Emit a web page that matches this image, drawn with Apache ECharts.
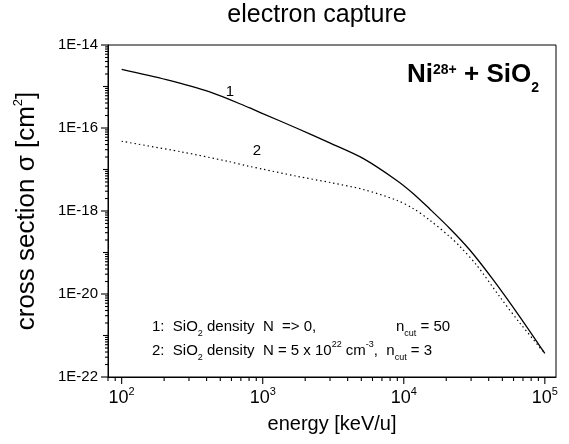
<!DOCTYPE html>
<html>
<head>
<meta charset="utf-8">
<script src="https://cdn.jsdelivr.net/npm/echarts@6/dist/echarts.min.js"></script>
<style>
  html, body { margin: 0; padding: 0; background: #fff; }
  #chart { width: 569px; height: 444px; }
</style>
</head>
<body>
<div id="chart"></div>
<script>
  // curve 1: SiO2 density N => 0, n_cut = 50
  var energy1 = [100, 207, 421, 809, 1000, 1730, 2985, 5140, 8870, 11640, 15280, 21200, 29400, 43100, 66500, 100000]
  var sigma1 = [2.6e-15, 1.47e-15, 7.4e-16, 3.05e-16, 2.23e-16, 1.0e-16, 4.37e-17, 1.85e-17, 5.53e-18, 2.65e-18, 1.12e-18, 3.8e-19, 1.15e-19, 2.19e-20, 2.82e-21, 3.7e-22]
  // curve 2: N = 5e22 cm^-3, n_cut = 3
  var energy2 = [100, 265, 562, 794, 1000, 1730, 3070, 5140, 8870, 11640, 15280, 21200, 24950, 32800, 48000, 66500, 100000]
  var sigma2 = [4.79e-17, 2.66e-17, 1.58e-17, 1.2e-17, 1.02e-17, 6.92e-18, 4.79e-18, 3.31e-18, 1.83e-18, 1.15e-18, 6.03e-19, 2.4e-19, 1.41e-19, 5.0e-20, 8.5e-21, 2.0e-21, 3.7e-22]

  var xMin = 80, xMax = 120000
  var yMin = 1e-22, yMax = 1e-14
  var xDecades = [100, 1000, 10000, 100000]
  var yDecades = [1e-22, 1e-21, 1e-20, 1e-19, 1e-18, 1e-17, 1e-16, 1e-15, 1e-14]
  var yLabeled = [1e-22, 1e-20, 1e-18, 1e-16, 1e-14]
  var minorSteps = [2, 3, 4, 5, 6, 7, 8, 9]

  var font = '"Liberation Sans", Arial, sans-serif'

  function minors(decades, lo, hi) {
    var out = []
    decades.forEach(function (d) {
      minorSteps.forEach(function (m) {
        var v = d * m
        if (v > lo * 0.999 && v < hi) out.push(v)
      })
    })
    return out
  }

  // tick marks: [x, y, length, direction]  direction 0 = x axis (down), 1 = y axis (left)
  var ticks = []
  xDecades.forEach(function (v) { ticks.push([v, yMin, 7, 0]) })
  minors([10].concat(xDecades), xMin, xMax).forEach(function (v) { ticks.push([v, yMin, 4, 0]) })
  yDecades.forEach(function (v) { ticks.push([xMin, v, yLabeled.indexOf(v) >= 0 ? 7 : 5, 1]) })
  minors(yDecades, yMin, yMax).forEach(function (v) { ticks.push([xMin, v, 3, 1]) })

  function pairs(xs, ys) {
    return xs.map(function (x, i) { return [x, ys[i]] })
  }

  var chart = echarts.init(document.getElementById('chart'))
  chart.setOption({
    animation: false,
    backgroundColor: '#fff',
    textStyle: { fontFamily: font },
    grid: {
      left: 108, right: 13, top: 45, bottom: 67,
      containLabel: false,
      show: true, borderColor: '#000', borderWidth: 1
    },
    xAxis: {
      type: 'log', logBase: 10, min: xMin, max: xMax, position: 'bottom',
      name: 'energy [keV/u]', nameLocation: 'middle', nameGap: 22,
      nameTextStyle: { fontSize: 20, color: '#000', fontFamily: font },
      axisLine: { show: true, lineStyle: { color: '#000', width: 1 } },
      axisTick: { show: false },
      splitLine: { show: false },
      axisLabel: {
        customValues: xDecades, margin: 9, color: '#000', fontSize: 18, lineHeight: 24, fontFamily: font,
        formatter: function (v) { return '10{e|' + Math.round(Math.log10(v)) + '}' },
        rich: { e: { fontSize: 11, lineHeight: 11, verticalAlign: 'top', color: '#000', fontFamily: font } }
      }
    },
    yAxis: {
      type: 'log', logBase: 10, min: yMin, max: yMax, position: 'left',
      name: 'cross section σ [cm{s|2}]', nameLocation: 'middle', nameGap: 66,
      nameTextStyle: {
        fontSize: 26, color: '#000', fontFamily: font, lineHeight: 30,
        rich: { s: { fontSize: 13, lineHeight: 13, verticalAlign: 'top', color: '#000', fontFamily: font } }
      },
      axisLine: { show: true, lineStyle: { color: '#000', width: 1 } },
      axisTick: { show: false },
      splitLine: { show: false },
      axisLabel: {
        customValues: yLabeled, margin: 10, color: '#000', fontSize: 15, fontFamily: font,
        formatter: function (v) { return '1E' + Math.round(Math.log10(v)) }
      }
    },
    series: [
      {
        name: '1', type: 'line',
        data: pairs(energy1, sigma1), smooth: 0.3, symbol: 'none',
        lineStyle: { color: '#000', width: 1.3 }
      },
      {
        name: '2', type: 'line',
        data: pairs(energy2, sigma2), smooth: 0.3, symbol: 'none',
        lineStyle: { color: '#000', width: 1.2, type: [1.4, 3] }
      },
      {
        type: 'custom', coordinateSystem: 'cartesian2d', clip: false,
        data: ticks,
        renderItem: function (params, api) {
          var p = api.coord([api.value(0), api.value(1)])
          var len = api.value(2)
          var shape = api.value(3) === 0
            ? { x1: p[0], y1: p[1], x2: p[0], y2: p[1] + len }
            : { x1: p[0], y1: p[1], x2: p[0] - len, y2: p[1] }
          return { type: 'line', shape: shape, style: { stroke: '#000', lineWidth: 1.1 } }
        }
      }
    ],
    graphic: [
      {
        type: 'text', x: 317, y: 15,
        style: { text: 'electron capture', fontSize: 25, fontFamily: font, fill: '#000', align: 'center', verticalAlign: 'middle' }
      },
      {
        type: 'text', x: 407, y: 75,
        style: {
          text: 'Ni{sup|28+} + SiO{sub|2}', fontSize: 26, fontWeight: 'bold', fontFamily: font, lineHeight: 40,
          fill: '#000', align: 'left', verticalAlign: 'middle',
          rich: {
            sup: { fontSize: 14, fontWeight: 'bold', fontFamily: font, lineHeight: 14, verticalAlign: 'top', padding: [8, 0, 0, 0], fill: '#000' },
            sub: { fontSize: 14, fontWeight: 'bold', fontFamily: font, lineHeight: 14, verticalAlign: 'bottom', fill: '#000' }
          }
        }
      },
      {
        type: 'text', x: 230, y: 92,
        style: { text: '1', fontSize: 15, fontFamily: font, fill: '#000', align: 'center', verticalAlign: 'middle' }
      },
      {
        type: 'text', x: 257, y: 151,
        style: { text: '2', fontSize: 15, fontFamily: font, fill: '#000', align: 'center', verticalAlign: 'middle' }
      },
      {
        type: 'text', x: 152, y: 327,
        style: {
          text: '1:  SiO{sub|2} density  N  => 0,', fontSize: 15, fontFamily: font, lineHeight: 22,
          fill: '#000', align: 'left', verticalAlign: 'middle',
          rich: { sub: { fontSize: 9, fontFamily: font, lineHeight: 9, verticalAlign: 'bottom', fill: '#000' } }
        }
      },
      {
        type: 'text', x: 396, y: 327,
        style: {
          text: 'n{sub|cut} = 50', fontSize: 15, fontFamily: font, lineHeight: 22,
          fill: '#000', align: 'left', verticalAlign: 'middle',
          rich: { sub: { fontSize: 9, fontFamily: font, lineHeight: 9, verticalAlign: 'bottom', fill: '#000' } }
        }
      },
      {
        type: 'text', x: 152, y: 351,
        style: {
          text: '2:  SiO{sub|2} density  N = 5 x 10{sup|22} cm{sup|-3},  n{sub|cut} = 3', fontSize: 15, fontFamily: font, lineHeight: 22,
          fill: '#000', align: 'left', verticalAlign: 'middle',
          rich: {
            sub: { fontSize: 9, fontFamily: font, lineHeight: 9, verticalAlign: 'bottom', fill: '#000' },
            sup: { fontSize: 9, fontFamily: font, lineHeight: 9, verticalAlign: 'top', fill: '#000' }
          }
        }
      }
    ]
  })
</script>
</body>
</html>
